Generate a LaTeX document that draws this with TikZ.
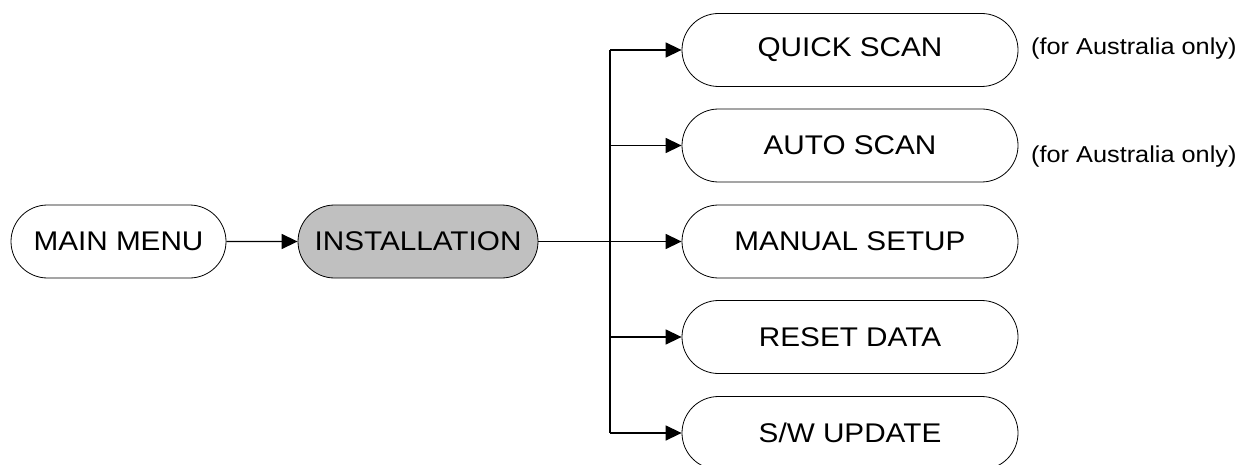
\documentclass[tikz,border=0pt]{standalone}
\usepackage{fontspec}
\setmainfont{Liberation Sans}[FakeStretch=1.1]
\usetikzlibrary{shapes.misc,arrows.meta}

\tikzset{
  menubox/.style = {rounded rectangle, draw, line width=0.8pt, minimum height=73pt,
                    inner sep=0pt, font=\fontsize{27}{31}\selectfont},
  note/.style    = {anchor=west, inner sep=0pt, font=\fontsize{23}{27}\selectfont},
  link/.style    = {line width=1.4pt},
  tolink/.style  = {link, -{Triangle[length=16pt,width=15pt]}}
}

\begin{document}
\begin{tikzpicture}[x=1pt, y=-1pt]

\useasboundingbox (0,0) rectangle (1249,465);

\node[menubox, minimum width=215pt] (main) at (118.5,241.5) {MAIN MENU};
\node[menubox, minimum width=240pt, fill={rgb,255:red,192;green,192;blue,192}] (install) at (418,241.5) {INSTALLATION};

\node[menubox, minimum width=336pt] (quick)  at (850,50)    {QUICK SCAN};
\node[menubox, minimum width=336pt] (auto)   at (850,145.5) {AUTO SCAN};
\node[menubox, minimum width=336pt] (manual) at (850,241.5) {MANUAL SETUP};
\node[menubox, minimum width=336pt] (reset)  at (850,337)   {RESET DATA};
\node[menubox, minimum width=336pt] (update) at (850,433)   {S/W UPDATE};

\node[note] (quicknote) at (1031,49)  {(for Australia only)};
\node[note] (autonote)  at (1031,157) {(for Australia only)};

\coordinate (trunk) at (610,0);

\draw[tolink] (main) -- (install);
\draw[link] (install.east) -- (trunk |- install.east);
\draw[link] (trunk |- quick.west) -- (trunk |- update.west);
\foreach \n in {quick,auto,manual,reset,update} {\draw[tolink] (trunk |- \n.west) -- (\n.west);}

\end{tikzpicture}
\end{document}
